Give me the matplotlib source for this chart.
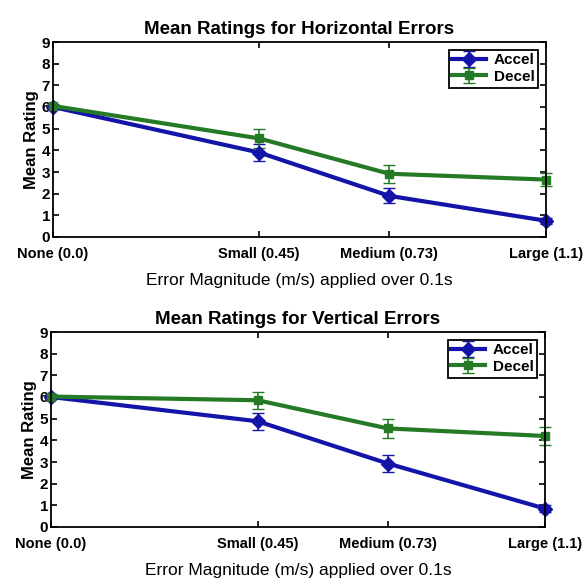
import matplotlib
matplotlib.use('Agg')
import matplotlib.pyplot as plt

plt.rcParams['font.family'] = 'Liberation Sans'

# error magnitudes (m/s), as placed on the axis
x_pos = [0.0, 0.46, 0.75, 1.1]
x_labels = ['None (0.0)', 'Small (0.45)', 'Medium (0.73)', 'Large (1.1)']

h_accel = [6.0, 3.9, 1.9, 0.75]
h_accel_err = [0.1, 0.4, 0.35, 0.15]
h_decel = [6.05, 4.55, 2.92, 2.65]
h_decel_err = [0.1, 0.45, 0.42, 0.3]

v_accel = [6.0, 4.88, 2.93, 0.85]
v_accel_err = [0.1, 0.4, 0.38, 0.15]
v_decel = [6.02, 5.85, 4.55, 4.2]
v_decel_err = [0.1, 0.4, 0.45, 0.4]

blue = '#1414a8'
green = '#257a25'

fig = plt.figure(figsize=(5.83, 5.78), dpi=100)
ax1 = fig.add_axes([53/583, 1 - 237/578, 493/583, 195/578])
ax2 = fig.add_axes([51/583, 1 - 527/578, 494/583, 195/578])

panels = [
    (ax1, 'Mean Ratings for Horizontal Errors', h_accel, h_accel_err, h_decel, h_decel_err),
    (ax2, 'Mean Ratings for Vertical Errors', v_accel, v_accel_err, v_decel, v_decel_err),
]

for ax, title, acc, acc_err, dec, dec_err in panels:
    for vals, errs, col, mk, ms, lab in [(acc, acc_err, blue, 'D', 7, 'Accel'),
                                         (dec, dec_err, green, 's', 6, 'Decel')]:
        lines = ax.errorbar(x_pos, vals, yerr=errs, color=col, marker=mk, markersize=ms,
                            linewidth=3, capsize=4, elinewidth=1.2, label=lab)
        for artist in lines.get_children():
            artist.set_clip_on(False)
    ax.set_xlim(0, 1.1)
    ax.set_ylim(0, 9)
    ax.set_yticks(range(10))
    ax.set_xticks(x_pos)
    ax.set_xticklabels(x_labels, fontsize=10.5, fontweight='bold')
    for t in ax.get_yticklabels():
        t.set_fontweight('bold')
    ax.tick_params(axis='y', labelsize=11, pad=2)
    ax.tick_params(axis='x', pad=7)
    ax.tick_params(direction='in', top=True, right=True, length=4, width=1.2)
    for sp in ax.spines.values():
        sp.set_linewidth(1.3)
    ax.set_title(title, fontsize=13.5, fontweight='bold', pad=6)
    ax.set_ylabel('Mean Rating', fontsize=12, fontweight='bold', labelpad=2)
    ax.set_xlabel('Error Magnitude (m/s) applied over 0.1s', fontsize=12.5, labelpad=9)
    leg = ax.legend(loc='upper right', fancybox=False, framealpha=1,
                    prop={'size': 11, 'weight': 'bold'},
                    edgecolor='black', handlelength=2.2, borderpad=0.25,
                    labelspacing=0.15, handletextpad=0.5, borderaxespad=0.5)
    leg.get_frame().set_linewidth(1.3)

fig.savefig('out.png', dpi=100)
